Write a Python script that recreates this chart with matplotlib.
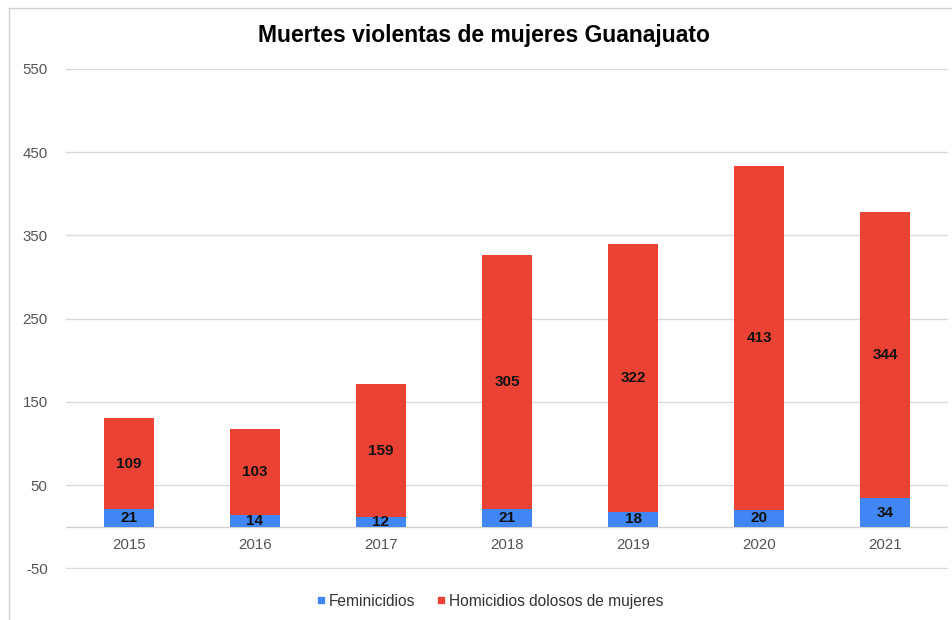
import numpy as np
import matplotlib.pyplot as plt
from matplotlib.lines import Line2D

plt.rcParams['font.family'] = ['Liberation Sans', 'DejaVu Sans']
plt.rcParams['axes.unicode_minus'] = False

# datos
anios = ['2015', '2016', '2017', '2018', '2019', '2020', '2021']
feminicidios = [21, 14, 12, 21, 18, 20, 34]
homicidios = [109, 103, 159, 305, 322, 413, 344]
yticks = [-50, 50, 150, 250, 350, 450, 550]

azul = '#4285F4'
rojo = '#EA4335'

fig = plt.figure(figsize=(9.53, 6.2), dpi=100)
ax = fig.add_axes([0.069, 0.0823, 0.926, 0.8067])

x = np.arange(len(anios))
ax.bar(x, feminicidios, width=0.4, color=azul, label='Feminicidios', zorder=3)
ax.bar(x, homicidios, width=0.4, bottom=feminicidios, color=rojo,
       label='Homicidios dolosos de mujeres', zorder=3)

# etiquetas de valores
for i in range(len(anios)):
    ax.text(x[i], feminicidios[i] / 2, str(feminicidios[i]), ha='center', va='center',
            fontsize=11, fontweight='bold', color='#111111', zorder=4)
    ax.text(x[i], feminicidios[i] + homicidios[i] / 2, str(homicidios[i]), ha='center',
            va='center', fontsize=11, fontweight='bold', color='#111111', zorder=4)

ax.set_xlim(-0.5, 6.5)
ax.set_ylim(-50.8, 550)
ax.set_yticks(yticks)
ax.set_xticks(x)
ax.set_xticklabels([])
ax.tick_params(axis='both', length=0, labelsize=10.8, labelcolor='#555555')
ax.tick_params(axis='y', pad=13)
ax.grid(axis='y', color='#d9d9d9', linewidth=1, zorder=0)
ax.axhline(0, color='#d0d0d0', linewidth=1, zorder=1)
for s in ax.spines.values():
    s.set_visible(False)

# etiquetas del eje x justo debajo del cero
for i in range(len(anios)):
    ax.text(x[i], -14, anios[i], ha='center', va='top', fontsize=10.8, color='#555555')

fig.text(0.508, 0.943, 'Muertes violentas de mujeres Guanajuato', ha='center', va='center',
         fontsize=16.5, fontweight='bold', color='#000000')

# leyenda
handles = [Line2D([], [], marker='s', linestyle='', color=azul, markersize=5),
           Line2D([], [], marker='s', linestyle='', color=rojo, markersize=5)]
fig.legend(handles, ['Feminicidios', 'Homicidios dolosos de mujeres'], loc='center',
           bbox_to_anchor=(0.513, 0.03), ncol=2, frameon=False, fontsize=11.2,
           handlelength=0.8, handletextpad=0.1, columnspacing=1.3, labelcolor='#333333')

# borde
fig.add_artist(Line2D([9 / 953, 9 / 953], [0, 1 - 8 / 620], transform=fig.transFigure,
                      color='#d0d0d0', linewidth=1))
fig.add_artist(Line2D([9 / 953, 1], [1 - 8 / 620, 1 - 8 / 620], transform=fig.transFigure,
                      color='#d0d0d0', linewidth=1))

fig.savefig('out.png', dpi=100)
